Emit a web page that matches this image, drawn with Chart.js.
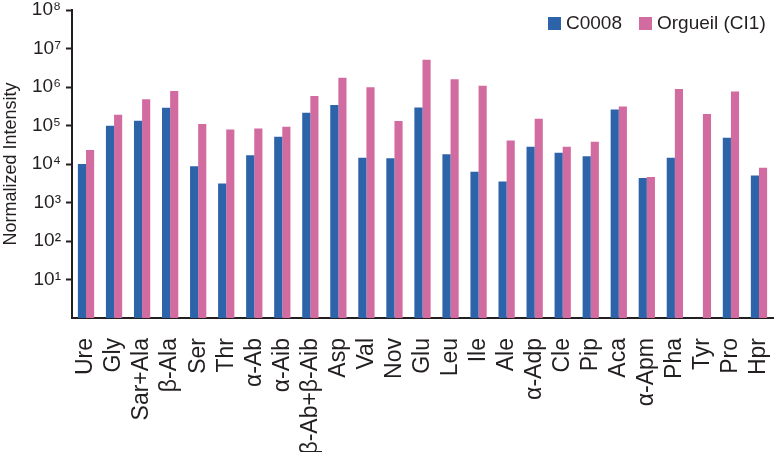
<!DOCTYPE html>
<html>
<head>
<meta charset="utf-8">
<script src="https://cdn.jsdelivr.net/npm/chart.js@4.4.1/dist/chart.umd.min.js"></script>
<style>
  html, body { margin: 0; padding: 0; background: #fff; }
  #wrap { width: 775px; height: 452px; position: relative; }
</style>
</head>
<body>
<div id="wrap"><canvas id="chart"></canvas></div>
<script>
// values (log scale)
const categories = ['Ure', 'Gly', 'Sar+Ala', 'β-Ala', 'Ser', 'Thr', 'α-Ab', 'α-Aib', 'β-Ab+β-Aib',
    'Asp', 'Val', 'Nov', 'Glu', 'Leu', 'Ile', 'Ale', 'α-Adp', 'Cle', 'Pip', 'Aca', 'α-Apm',
    'Pha', 'Tyr', 'Pro', 'Hpr'];
const c0008 = [1.0e4, 9.9e4, 1.33e5, 2.9e5, 8.7e3, 3.1e3, 1.7e4, 5.1e4, 2.15e5,
    3.4e5, 1.45e4, 1.4e4, 2.95e5, 1.8e4, 6.3e3, 3.5e3, 2.8e4, 1.96e4, 1.6e4, 2.6e5, 4.3e3,
    1.45e4, null, 4.8e4, 5.0e3];
const orgueil = [2.3e4, 1.9e5, 4.8e5, 7.9e5, 1.1e5, 7.9e4, 8.3e4, 9.3e4, 5.8e5,
    1.74e6, 9.8e5, 1.3e5, 5.1e6, 1.6e6, 1.07e6, 4.1e4, 1.5e5, 2.8e4, 3.8e4, 3.1e5, 4.6e3,
    8.9e5, 2.0e5, 7.6e5, 8.0e3];
const yTicks = [1e1, 1e2, 1e3, 1e4, 1e5, 1e6, 1e7, 1e8];

const sup = { '1': '¹', '2': '²', '3': '³', '4': '⁴', '5': '⁵', '6': '⁶', '7': '⁷', '8': '⁸' };
const font = '"Liberation Sans", Arial, sans-serif';
const axisColor = '#231f20';

// legend sits inside the plot, top right, drawn by hand
const insideLegend = {
    id: 'insideLegend',
    afterDraw(chart) {
        const ctx = chart.ctx;
        ctx.save();
        ctx.font = '19px ' + font;
        ctx.textBaseline = 'middle';
        ctx.textAlign = 'left';
        let x = 548;
        const y = 17;
        chart.data.datasets.forEach(ds => {
            ctx.fillStyle = ds.backgroundColor;
            ctx.fillRect(x, y, 13, 13);
            x += 18;
            ctx.fillStyle = '#231f20';
            ctx.fillText(ds.label, x, y + 7);
            x += ctx.measureText(ds.label).width + 17;
        });
        ctx.restore();
    }
};

new Chart(document.getElementById('chart'), {
    type: 'bar',
    data: {
        labels: categories,
        datasets: [
            { label: 'C0008', data: c0008, backgroundColor: '#2d63a9' },
            { label: 'Orgueil (CI1)', data: orgueil, backgroundColor: '#d26b9f' }
        ]
    },
    plugins: [insideLegend],
    options: {
        responsive: true,
        maintainAspectRatio: false,
        animation: false,
        layout: { padding: { top: 10, right: 2, left: 0, bottom: 0 } },
        datasets: { bar: { categoryPercentage: 0.58, barPercentage: 1.0 } },
        plugins: {
            legend: { display: false },
            tooltip: { enabled: false }
        },
        scales: {
            x: {
                grid: { display: false },
                border: { display: true, color: axisColor, width: 2 },
                ticks: {
                    color: '#231f20',
                    minRotation: 90,
                    maxRotation: 90,
                    autoSkip: false,
                    padding: 12,
                    font: { family: font, size: 23 }
                },
                afterFit: (scale) => {
                    scale.height = 134;
                    scale.paddingLeft = 0;
                    scale.paddingRight = 0;
                }
            },
            y: {
                type: 'logarithmic',
                min: 1,
                max: 1e8,
                afterBuildTicks: (scale) => {
                    scale.ticks = yTicks.map(v => ({ value: v }));
                },
                grid: {
                    display: true,
                    drawOnChartArea: false,
                    drawTicks: true,
                    tickLength: 6,
                    tickWidth: 2,
                    tickColor: axisColor
                },
                border: { display: true, color: axisColor, width: 2 },
                ticks: {
                    color: '#231f20',
                    padding: 5,
                    font: { family: font, size: 19 },
                    callback: (v) => '10' + sup[String(Math.round(Math.log10(v)))]
                },
                title: {
                    display: true,
                    text: 'Normalized Intensity',
                    color: '#231f20',
                    padding: { top: 0, bottom: 4 },
                    font: { family: font, size: 18 }
                },
                afterFit: (scale) => {
                    scale.width = 72;
                    scale.paddingTop = 0;
                    scale.paddingBottom = 0;
                }
            }
        }
    }
});
</script>
</body>
</html>
